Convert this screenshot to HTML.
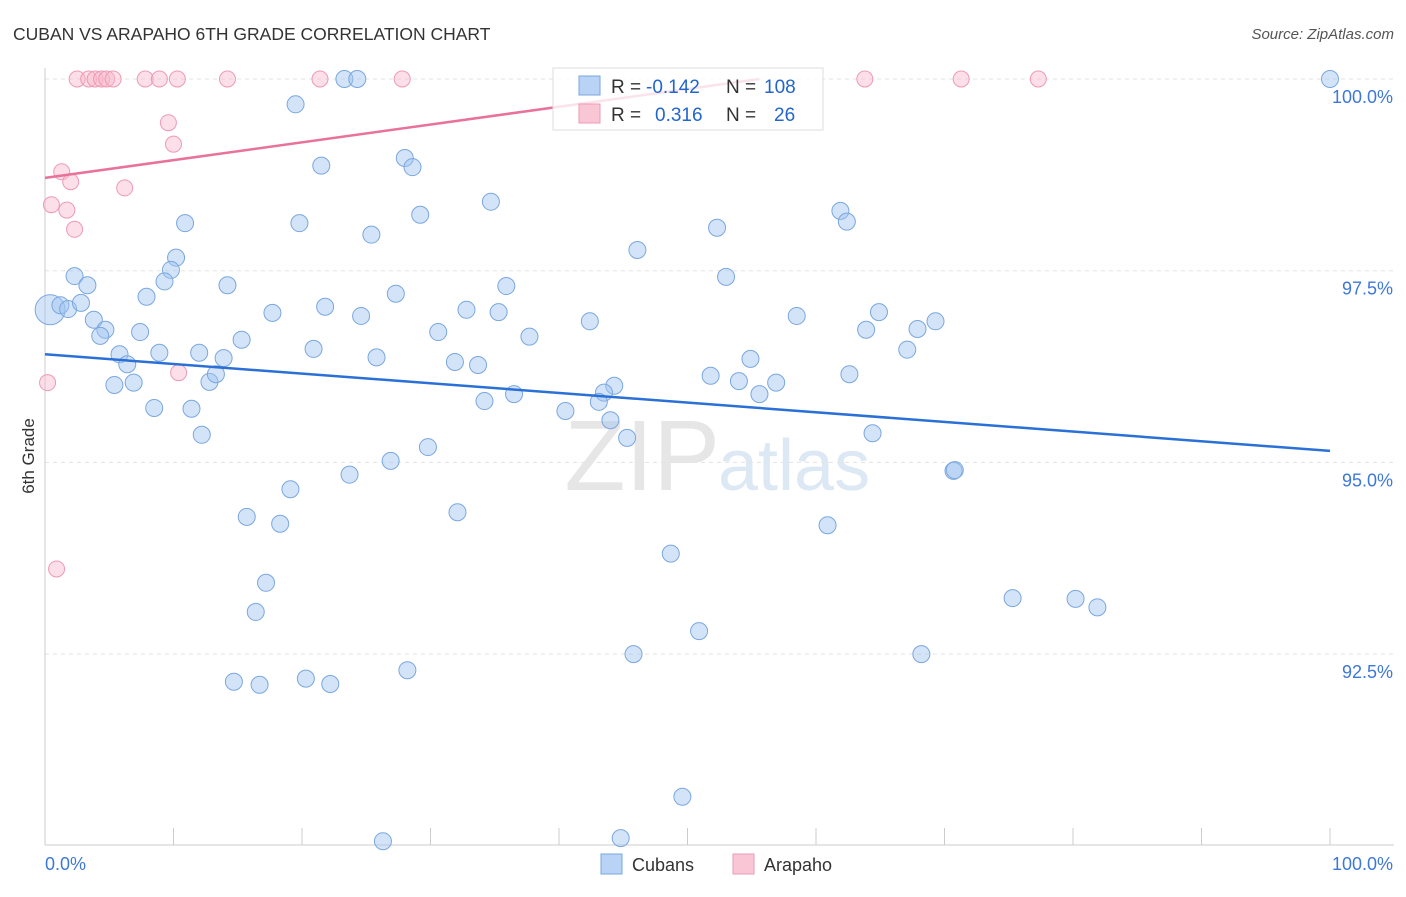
<!DOCTYPE html>
<html><head><meta charset="utf-8"><style>
body{margin:0;background:#fff;font-family:"Liberation Sans",sans-serif;}
svg text{font-family:"Liberation Sans",sans-serif;}
</style></head><body>
<svg id="chart" width="1406" height="892" xmlns="http://www.w3.org/2000/svg">
<text x="13" y="40" font-size="17.5" fill="#333">CUBAN VS ARAPAHO 6TH GRADE CORRELATION CHART</text>
<text x="1394" y="39" font-size="15" fill="#555" text-anchor="end" font-style="italic">Source: ZipAtlas.com</text>
<text x="720" y="490" font-size="100" fill="#e6e6e6" text-anchor="end" font-family="Liberation Serif">ZIP</text>
<text x="718" y="490" font-size="72" fill="#dde8f5">atlas</text>
<g id="grid"></g>
<g id="axes"></g>
<g id="points"></g>
<g id="lines"></g>
<text transform="translate(34,456) rotate(-90)" font-size="17" fill="#333" text-anchor="middle">6th Grade</text>
<g>
<rect x="553" y="68" width="270" height="62" fill="#fff" fill-opacity="0.8" stroke="#ddd"/>
<rect x="579" y="76" width="21" height="19" fill="#b8d3f5" stroke="#7aa7e0"/>
<rect x="579" y="104" width="21" height="19" fill="#f9c6d5" stroke="#ee9ab4"/>
<text x="611" y="93" font-size="19" fill="#333">R =</text>
<text x="646" y="93" font-size="19" fill="#2266cc">-0.142</text>
<text x="726" y="93" font-size="19" fill="#333">N =</text>
<text x="764" y="93" font-size="19" fill="#2266cc">108</text>
<text x="611" y="121" font-size="19" fill="#333">R =</text>
<text x="655" y="121" font-size="19" fill="#2266cc">0.316</text>
<text x="726" y="121" font-size="19" fill="#333">N =</text>
<text x="774" y="121" font-size="19" fill="#2266cc">26</text>
</g>
<g>
<rect x="601" y="854" width="21" height="20" fill="#b8d3f5" stroke="#7aa7e0"/>
<text x="632" y="871" font-size="18" fill="#333">Cubans</text>
<rect x="733" y="854" width="21" height="20" fill="#f9c6d5" stroke="#ee9ab4"/>
<text x="764" y="871" font-size="18" fill="#333">Arapaho</text>
</g>
</svg>
<script>
const blueX=[100,19.5,23.3,24.3,21.5,28.0,28.6,34.7,29.2,10.9,19.8,25.4,46.1,52.3,61.9,62.4,10.2,9.8,2.3,3.3,9.3,14.2,7.9,27.3,35.9,53.0,0.4,1.2,1.8,2.8,3.8,4.7,4.3,7.4,17.7,21.8,24.6,32.8,35.3,30.6,37.7,42.4,58.5,64.9,63.9,67.9,69.3,15.3,5.8,6.4,8.9,12.0,13.9,20.9,25.8,31.9,33.7,67.1,54.9,5.4,6.9,12.8,13.3,51.8,54.0,56.9,62.6,55.6,44.3,43.5,43.1,36.5,34.2,8.5,11.4,40.5,44.0,12.2,45.3,64.4,29.8,26.9,23.7,70.7,70.8,19.1,15.7,18.3,32.1,60.9,48.7,17.2,16.4,75.3,80.2,81.9,50.9,45.8,68.2,28.2,14.7,16.7,20.3,22.2,49.6,26.3,44.8];
const blueY=[100,99.67,100,100,98.87,98.97,98.85,98.40,98.23,98.12,98.12,97.97,97.77,98.06,98.28,98.14,97.67,97.51,97.43,97.31,97.36,97.31,97.16,97.20,97.30,97.42,96.99,97.05,97.00,97.08,96.86,96.73,96.65,96.70,96.95,97.03,96.91,96.99,96.96,96.70,96.64,96.84,96.91,96.96,96.73,96.74,96.84,96.60,96.41,96.28,96.43,96.43,96.36,96.48,96.37,96.31,96.27,96.47,96.35,96.01,96.04,96.05,96.15,96.13,96.06,96.04,96.15,95.89,96.00,95.91,95.79,95.89,95.80,95.71,95.70,95.67,95.55,95.36,95.32,95.38,95.20,95.02,94.84,94.89,94.90,94.65,94.29,94.20,94.35,94.18,93.81,93.43,93.05,93.23,93.22,93.11,92.80,92.50,92.50,92.29,92.14,92.10,92.18,92.11,90.64,90.06,90.10];
const pinkX=[2.5,3.4,3.9,4.4,4.8,5.3,7.8,8.9,10.3,14.2,21.4,27.8,63.8,71.3,77.3,9.6,10.0,1.3,2.0,0.5,1.7,2.3,6.2,0.2,10.4,0.9];
const pinkY=[100,100,100,100,100,100,100,100,100,100,100,100,100,100,100,99.43,99.15,98.79,98.66,98.36,98.29,98.04,98.58,96.04,96.17,93.61];
const blueTrend=[96.41,95.15];
const pinkTrend=[98.71,0.0232];
const yTicks=[100,97.5,95,92.5];
const yTickLabels=["100.0%","97.5%","95.0%","92.5%"];
const xTicks=[0,10,20,30,40,50,60,70,80,90,100];
const xTickLabels=["0.0%","100.0%"];
const NS="http://www.w3.org/2000/svg";
const sx=v=>45+v*12.85, sy=v=>79+(100-v)*76.68;
function mk(tag,attrs,parent){const e=document.createElementNS(NS,tag);for(const k in attrs)e.setAttribute(k,attrs[k]);document.getElementById(parent).appendChild(e);return e;}
yTicks.forEach((t,i)=>{
 const g=mk('line',{x1:45,x2:1394,y1:sy(t),y2:sy(t),stroke:'#e3e3e3','stroke-dasharray':'4,4'},'grid');
 
 
 const l=mk('text',{x:1393,y:sy(t)+24,'font-size':18,fill:'#3d78d8','text-anchor':'end'},'axes');
 l.textContent=yTickLabels[i];
 
 
});
const ax=mk('line',{x1:45,x2:45,y1:68,y2:845,stroke:'#ccc'},'axes');


const bx=mk('line',{x1:45,x2:1394,y1:845,y2:845,stroke:'#ccc'},'axes');


xTicks.forEach(t=>{
 const k=mk('line',{x1:sx(t),x2:sx(t),y1:828,y2:845,stroke:'#ccc'},'axes');
 
 
});
[[0,'start',45],[100,'end',1393]].forEach((d,i)=>{
 const l=mk('text',{x:d[2],y:870,'font-size':18,fill:'#3d78d8','text-anchor':d[1]},'axes');
 l.textContent=xTickLabels[i];
 
 
});
blueX.forEach((x,i)=>{
 const c=mk('circle',{cx:sx(x),cy:sy(blueY[i]),r:i==26?15:8.5,fill:'rgba(160,195,240,0.45)',stroke:'#7aa7e0','stroke-width':1},'points');
 
 
});
pinkX.forEach((x,i)=>{
 const c=mk('circle',{cx:sx(x),cy:sy(pinkY[i]),r:8,fill:'rgba(248,185,205,0.45)',stroke:'#ee9ab4','stroke-width':1},'points');
 
 
});
const bl=mk('line',{x1:sx(0),y1:sy(blueTrend[0]),x2:sx(100),y2:sy(blueTrend[1]),stroke:'#2a70d6','stroke-width':2.5},'lines');


const pEnd=Math.min(100,(100-pinkTrend[0])/pinkTrend[1]);
const pl=mk('line',{x1:sx(0),y1:sy(pinkTrend[0]),x2:sx(pEnd),y2:sy(pinkTrend[0]+pinkTrend[1]*pEnd),stroke:'#e8729a','stroke-width':2.5},'lines');


</script>
</body></html>
